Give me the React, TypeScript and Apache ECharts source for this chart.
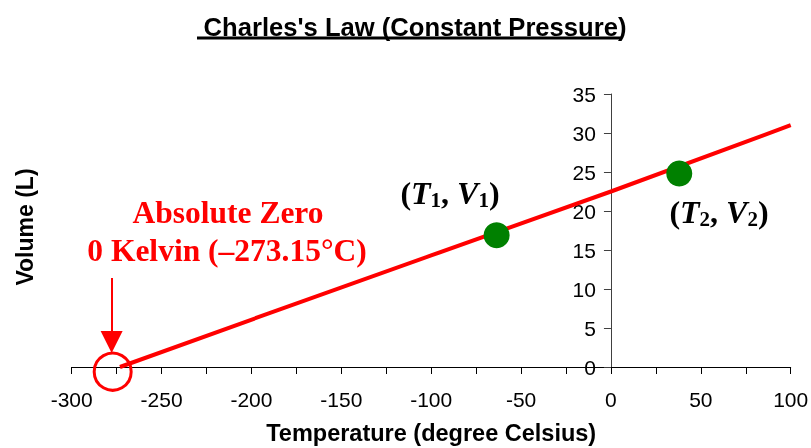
import React, { useEffect, useRef } from "react";
import * as echarts from "echarts";

// Charles's law line (temperature °C -> volume L)
const lineTemps = [-273.15, -190, -100, 0, 100];
const lineVolumes = [0, 6.9, 14.3, 22.5, 31.0];
// Highlighted states (T1,V1) and (T2,V2)
const pointTemps = [-63.6, 38];
const pointVolumes = [16.9, 24.8];
// Absolute zero marker circle and arrow
const zeroMarker = [-277.2, -0.6];
const arrowFrom = [-277.8, 11.4];
const arrowTo = [-277.8, 3.2];
// Axis ranges
const xRange = [-300, 100, 50];
const yRange = [0, 35, 5];

const SERIF = '"Liberation Serif", "Times New Roman", serif';
const SANS = '"Liberation Sans", Arial, sans-serif';

const GRID_LEFT = 71.7;
const GRID_RIGHT = 20.3;
const WIDTH = 811;

export default function App() {
  const ref = useRef<HTMLDivElement>(null);
  useEffect(() => {
    if (!ref.current) return;
    const chart = echarts.init(ref.current, undefined, { renderer: "svg" });
    const plotW = WIDTH - GRID_LEFT - GRID_RIGHT;
    // place the y axis where x = 0
    const yAxisOffset = -plotW * (0 - xRange[0]) / (xRange[1] - xRange[0]);
    const pairRich = {
      p: { fontFamily: SERIF, fontWeight: "bold", fontSize: 32, color: "#000", lineHeight: 34, verticalAlign: "middle" },
      t: { fontFamily: SERIF, fontWeight: "bold", fontStyle: "italic", fontSize: 32, color: "#ff0000", lineHeight: 34, verticalAlign: "middle" },
      v: { fontFamily: SERIF, fontWeight: "bold", fontStyle: "italic", fontSize: 32, color: "#0000ff", lineHeight: 34, verticalAlign: "middle" },
      ts: { fontFamily: SERIF, fontWeight: "bold", fontSize: 21, color: "#ff0000", lineHeight: 21, verticalAlign: "bottom" },
      vs: { fontFamily: SERIF, fontWeight: "bold", fontSize: 21, color: "#0000ff", lineHeight: 21, verticalAlign: "bottom" },
    };
    chart.setOption({
      animation: false,
      title: {
        text: "Charles's Law (Constant Pressure)",
        left: 410,
        top: 9,
        textAlign: "center",
        textStyle: { fontFamily: SANS, fontWeight: "bold", fontSize: 25.6, color: "#000" },
      },
      grid: { left: GRID_LEFT, right: GRID_RIGHT, top: 94, bottom: 81, containLabel: false, outerBoundsMode: "none" },
      xAxis: {
        type: "value",
        min: xRange[0],
        max: xRange[1],
        interval: xRange[2],
        axisLine: { onZero: false, lineStyle: { color: "#000", width: 1 } },
        axisTick: { show: true, length: 7, lineStyle: { color: "#000" } },
        minorTick: { show: true, splitNumber: 2, length: 7, lineStyle: { color: "#000" } },
        splitLine: { show: false },
        minorSplitLine: { show: false },
        axisLabel: { fontFamily: SANS, fontSize: 21, color: "#000", margin: 22 },
        name: "Temperature (degree Celsius)",
        nameLocation: "middle",
        nameGap: 54,
        nameTextStyle: { fontFamily: SANS, fontWeight: "bold", fontSize: 23.5, color: "#000" },
      },
      yAxis: {
        type: "value",
        min: yRange[0],
        max: yRange[1],
        interval: yRange[2],
        offset: yAxisOffset,
        axisLine: { show: true, onZero: false, lineStyle: { color: "#404040", width: 1 } },
        axisTick: { show: true, length: 7, lineStyle: { color: "#404040" } },
        splitLine: { show: false },
        axisLabel: { fontFamily: SANS, fontSize: 21, color: "#000", margin: 15 },
      },
      graphic: [
        { type: "line", shape: { x1: 197, y1: 38, x2: 622, y2: 38 }, style: { stroke: "#000", lineWidth: 3 } },
        {
          type: "text", x: 25, y: 227, rotation: Math.PI / 2,
          style: { text: "Volume (L)", font: `bold 23px ${SANS}`, fill: "#000", textAlign: "center", textVerticalAlign: "middle" },
        },
        {
          type: "text", x: 228, y: 212,
          style: { text: "Absolute Zero", font: `bold 31.5px ${SERIF}`, fill: "#ff0000", textAlign: "center", textVerticalAlign: "middle" },
        },
        {
          type: "text", x: 227, y: 250,
          style: { text: "0 Kelvin (\u2013273.15\u00b0C)", font: `bold 31.5px ${SERIF}`, fill: "#ff0000", textAlign: "center", textVerticalAlign: "middle" },
        },
        {
          type: "text", x: 450, y: 193,
          style: { text: "{p|(}{t|T}{ts|1}{p|, }{v|V}{vs|1}{p|)}", rich: pairRich, textAlign: "center", textVerticalAlign: "middle" },
        },
        {
          type: "text", x: 719, y: 212,
          style: { text: "{p|(}{t|T}{ts|2}{p|, }{v|V}{vs|2}{p|)}", rich: pairRich, textAlign: "center", textVerticalAlign: "middle" },
        },
      ],
      series: [
        {
          type: "line",
          data: lineTemps.map((t, i) => [t, lineVolumes[i]]),
          showSymbol: false,
          symbol: "none",
          lineStyle: { color: "#ff0000", width: 4 },
          z: 2,
          silent: true,
        },
        {
          type: "scatter",
          data: pointTemps.map((t, i) => [t, pointVolumes[i]]),
          symbolSize: 26,
          itemStyle: { color: "#008000", opacity: 1 },
          z: 3,
          silent: true,
        },
        {
          type: "scatter",
          data: [zeroMarker],
          symbolSize: 37,
          clip: false,
          itemStyle: { color: "rgba(0,0,0,0)", borderColor: "#ff0000", borderWidth: 3, opacity: 1 },
          z: 4,
          silent: true,
          markLine: {
            silent: true,
            symbol: ["none", "triangle"],
            symbolSize: 22,
            label: { show: false },
            lineStyle: { color: "#ff0000", width: 2, type: "solid" },
            data: [[{ coord: arrowFrom }, { coord: arrowTo }]],
          },
        },
      ],
    });
    return () => chart.dispose();
  }, []);
  return <div ref={ref} style={{ position: "fixed", left: 0, top: 0, width: 811, height: 448 }} />;
}
